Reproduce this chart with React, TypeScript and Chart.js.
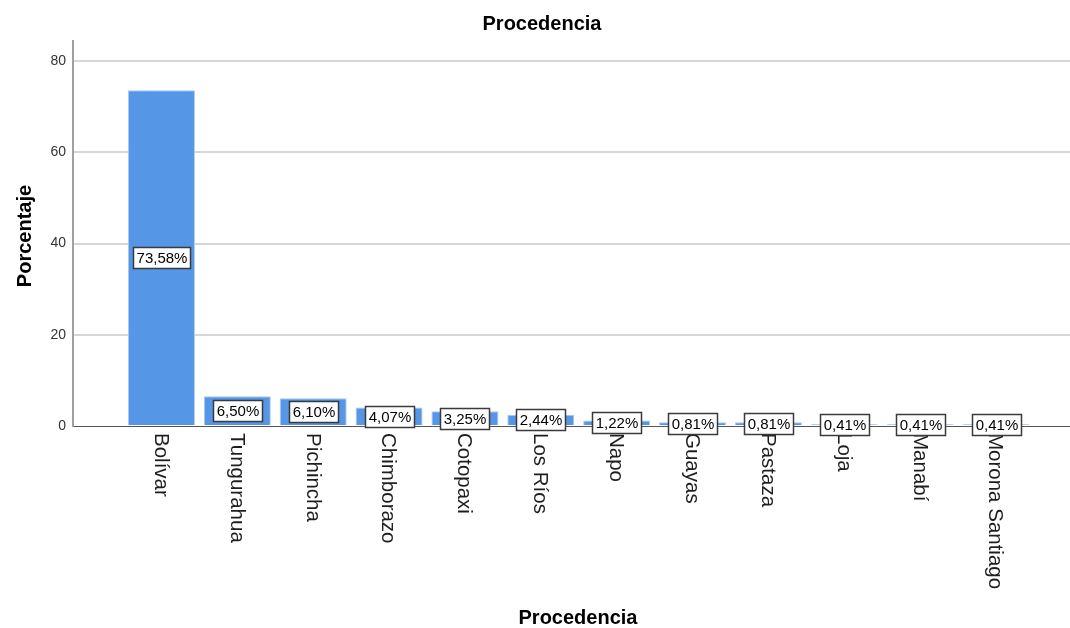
import React, { useEffect, useRef } from "react";
import { Chart, registerables } from "chart.js";

Chart.register(...registerables);

const categories = [
  "Bolívar",
  "Tungurahua",
  "Pichincha",
  "Chimborazo",
  "Cotopaxi",
  "Los Ríos",
  "Napo",
  "Guayas",
  "Pastaza",
  "Loja",
  "Manabí",
  "Morona Santiago",
];
const percentages = [73.58, 6.5, 6.1, 4.07, 3.25, 2.44, 1.22, 0.81, 0.81, 0.41, 0.41, 0.41];
const yTickValues = [0, 20, 40, 60, 80];
const chartTitle = "Procedencia";
const xAxisTitle = "Procedencia";
const yAxisTitle = "Porcentaje";

const FONT = "Arial, 'Liberation Sans', sans-serif";

const fmt = (v: number) => v.toFixed(2).replace(".", ",") + "%";

const spssPlugin = {
  id: "spssText",
  afterDraw(chart: any) {
    const ctx = chart.ctx as CanvasRenderingContext2D;
    const xs = chart.scales.x;
    const area = chart.chartArea;
    ctx.save();

    // Rotated category labels (read top to bottom)
    ctx.font = `20.5px ${FONT}`;
    ctx.fillStyle = "#1e1e1e";
    ctx.textAlign = "left";
    ctx.textBaseline = "middle";
    categories.forEach((c, i) => {
      const px = xs.getPixelForValue(i);
      ctx.save();
      ctx.translate(px - 1, area.bottom + 7);
      ctx.rotate(Math.PI / 2);
      ctx.fillText(c, 0, 0);
      ctx.restore();
    });

    // Value labels in boxes
    const meta = chart.getDatasetMeta(0);
    ctx.font = `15px ${FONT}`;
    meta.data.forEach((bar: any, i: number) => {
      const p = bar.getProps(["x", "y", "base"], true);
      const cy = (p.y + p.base) / 2;
      const text = fmt(percentages[i]);
      const w = Math.round(ctx.measureText(text).width + 6);
      const h = 21;
      const x0 = Math.round(p.x - w / 2) + 0.5;
      const y0 = Math.round(cy - h / 2) + 0.5;
      ctx.fillStyle = "#ffffff";
      ctx.fillRect(x0, y0, w, h);
      ctx.strokeStyle = "#3a3a3a";
      ctx.lineWidth = 1.5;
      ctx.strokeRect(x0, y0, w, h);
      ctx.fillStyle = "#000000";
      ctx.textAlign = "center";
      ctx.textBaseline = "middle";
      ctx.fillText(text, x0 + w / 2, y0 + h / 2 + 1);
    });

    // Titles
    ctx.font = `bold 20px ${FONT}`;
    ctx.fillStyle = "#000000";
    ctx.textAlign = "center";
    ctx.textBaseline = "middle";
    ctx.fillText(chartTitle, 542, 24);
    ctx.fillText(xAxisTitle, 578, 618);
    ctx.save();
    ctx.translate(25, 236);
    ctx.rotate(-Math.PI / 2);
    ctx.fillText(yAxisTitle, 0, 0);
    ctx.restore();

    ctx.restore();
  },
};

export default function App() {
  const ref = useRef<HTMLCanvasElement | null>(null);

  useEffect(() => {
    if (!ref.current) return;
    const chart = new Chart(ref.current, {
      type: "bar",
      data: {
        datasets: [
          {
            data: percentages.map((v, i) => ({ x: i, y: v })),
            backgroundColor: "#5596e6",
            borderColor: "#a9c9f2",
            borderWidth: 1,
            barPercentage: 0.883,
            categoryPercentage: 1,
          },
        ],
      },
      options: {
        responsive: false,
        animation: false,
        devicePixelRatio: 1,
        layout: { padding: { top: 41, left: 0, right: 0, bottom: 0 } },
        plugins: {
          legend: { display: false },
          tooltip: { enabled: false },
          title: { display: false },
        },
        scales: {
          x: {
            type: "linear",
            offset: false,
            min: -1.166,
            max: 11.975,
            ticks: { display: false },
            grid: { display: false, offset: false },
            border: { display: true, color: "#555555", width: 1 },
            afterBuildTicks: (scale: any) => {
              scale.ticks = categories.map((_, i) => ({ value: i }));
            },
            afterFit: (scale: any) => {
              scale.height = 202;
            },
          },
          y: {
            type: "linear",
            min: 0,
            max: 84.4,
            ticks: {
              font: { family: FONT, size: 14 },
              color: "#333333",
              padding: 7,
            },
            grid: {
              color: (c: any) => (c.tick && c.tick.value === 0 ? "rgba(0,0,0,0)" : "#d6d6d6"),
              lineWidth: 2,
              drawTicks: false,
            },
            border: { display: true, color: "#a0a0a0", width: 2 },
            afterBuildTicks: (scale: any) => {
              scale.ticks = yTickValues.map((v) => ({ value: v }));
            },
            afterFit: (scale: any) => {
              scale.width = 73;
            },
          },
        },
      } as any,
      plugins: [spssPlugin],
    });
    return () => chart.destroy();
  }, []);

  return (
    <div style={{ position: "fixed", left: 0, top: 0, width: 1070, height: 628, background: "#fff" }}>
      <canvas ref={ref} width={1070} height={628} style={{ display: "block" }} />
    </div>
  );
}
